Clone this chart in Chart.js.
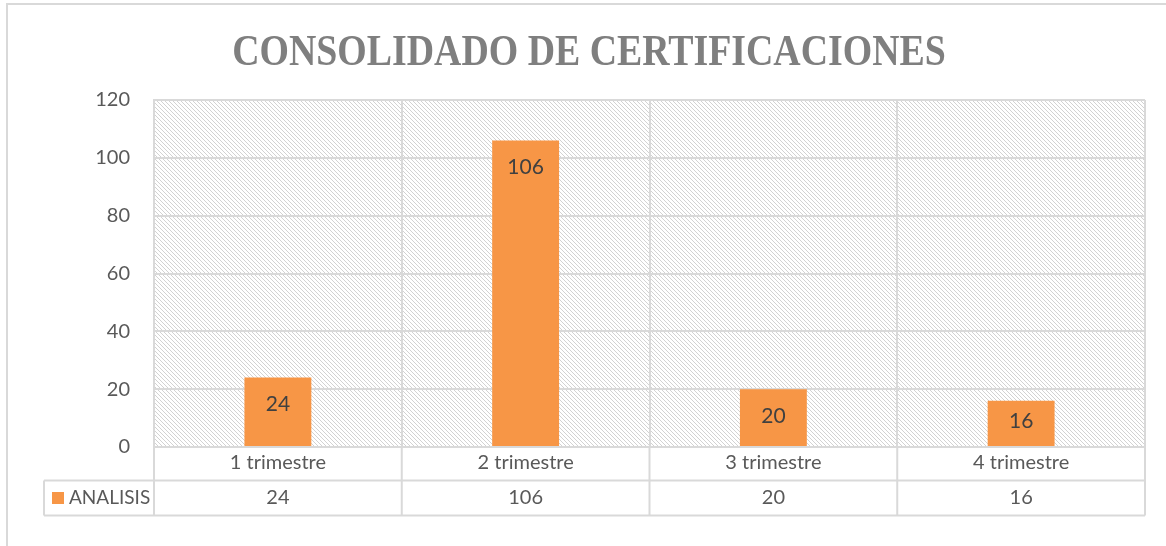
<!DOCTYPE html>
<html>
<head>
<meta charset="utf-8">
<script src="https://cdn.jsdelivr.net/npm/chart.js@4"></script>
<style>
html,body{margin:0;padding:0;background:#fff;}
#wrap{width:1166px;height:546px;position:relative;}
</style>
</head>
<body>
<div id="wrap"><canvas id="c" width="1166" height="546"></canvas></div>
<script>
const categories = ['1 trimestre', '2 trimestre', '3 trimestre', '4 trimestre'];
const seriesName = 'ANALISIS';
const analisis = [24, 106, 20, 16];
const yTicks = [0, 20, 40, 60, 80, 100, 120];
const titleText = 'CONSOLIDADO DE CERTIFICACIONES';

const BORDER = '#d9d9d9';
const BAR = '#F79646';
const TEXT = '#595959';
const FONT = 'Lato, "Noto Sans", sans-serif';

function makePattern(ctx) {
  const c = document.createElement('canvas');
  c.width = 4; c.height = 4;
  const g = c.getContext('2d');
  g.fillStyle = '#ffffff';
  g.fillRect(0, 0, 4, 4);
  g.fillStyle = '#d2d2d2';
  for (let i = 0; i < 4; i++) g.fillRect(i, i, 1, 1);
  return ctx.createPattern(c, 'repeat');
}

const bgPlugin = {
  id: 'bgPattern',
  beforeDraw(chart) {
    const { ctx, chartArea: a } = chart;
    ctx.save();
    ctx.fillStyle = makePattern(ctx);
    ctx.fillRect(a.left, a.top, a.right - a.left, a.bottom - a.top);
    // outer chart border
    ctx.strokeStyle = BORDER;
    ctx.lineWidth = 2;
    ctx.beginPath();
    ctx.moveTo(7, 546); ctx.lineTo(7, 4); ctx.lineTo(1166, 4);
    ctx.stroke();
    // title (condensed serif)
    ctx.fillStyle = '#7f7f7f';
    ctx.font = 'bold 44px "Liberation Serif", "DejaVu Serif", serif';
    ctx.textAlign = 'center';
    ctx.textBaseline = 'alphabetic';
    ctx.translate(589, 65);
    ctx.scale(0.86, 1);
    ctx.fillText(titleText, 0, 0);
    ctx.restore();
  }
};

const tablePlugin = {
  id: 'dataTable',
  afterDraw(chart) {
    const { ctx, chartArea: a, scales } = chart;
    const xs = scales.x;
    const n = categories.length;
    const w = (a.right - a.left) / n;
    const row1 = a.bottom;
    const row2 = a.bottom + 33.5;
    const row3 = a.bottom + 68.5;
    const legLeft = 44;
    ctx.save();
    ctx.strokeStyle = BORDER;
    ctx.lineWidth = 2;
    ctx.beginPath();
    ctx.moveTo(legLeft, row2); ctx.lineTo(a.right, row2);
    ctx.moveTo(legLeft, row3); ctx.lineTo(a.right, row3);
    ctx.moveTo(legLeft, row2); ctx.lineTo(legLeft, row3);
    for (let i = 0; i <= n; i++) {
      const x = a.left + i * w;
      ctx.moveTo(x, row1); ctx.lineTo(x, row3);
    }
    ctx.stroke();
    // legend key
    ctx.fillStyle = BAR;
    ctx.fillRect(52, row2 + 11.5, 12, 12);
    ctx.fillStyle = TEXT;
    ctx.font = '19px ' + FONT;
    ctx.textBaseline = 'middle';
    ctx.textAlign = 'left';
    ctx.fillText(seriesName, 69, (row2 + row3) / 2);
    // values
    ctx.font = '20px ' + FONT;
    ctx.textAlign = 'center';
    analisis.forEach((v, i) => {
      ctx.fillText(String(v), xs.getPixelForValue(i), (row2 + row3) / 2);
    });
    ctx.restore();
  }
};

const labelPlugin = {
  id: 'barLabels',
  afterDatasetsDraw(chart) {
    const { ctx } = chart;
    const meta = chart.getDatasetMeta(0);
    ctx.save();
    ctx.fillStyle = '#404040';
    ctx.font = '21px ' + FONT;
    ctx.textAlign = 'center';
    ctx.textBaseline = 'middle';
    meta.data.forEach((bar, i) => {
      let y = bar.y + 27;
      if (y > bar.base - 25) y = bar.base - 25;
      ctx.fillText(String(analisis[i]), bar.x, y);
    });
    ctx.restore();
  }
};

new Chart(document.getElementById('c'), {
  type: 'bar',
  data: {
    labels: categories,
    datasets: [{
      label: seriesName,
      data: analisis,
      backgroundColor: BAR,
      borderWidth: 0,
      barPercentage: 0.27,
      categoryPercentage: 1
    }]
  },
  options: {
    responsive: false,
    animation: false,
    devicePixelRatio: 1,
    layout: { padding: { left: 33, right: 21, top: 100, bottom: 0 } },
    plugins: {
      legend: { display: false },
      tooltip: { enabled: false },
      title: { display: false }
    },
    scales: {
      x: {
        grid: { color: BORDER, lineWidth: 2, drawTicks: false, offset: true },
        border: { color: BORDER, width: 2 },
        ticks: { color: TEXT, font: { family: FONT, size: 20 }, padding: 4 },
        afterFit(s) { s.height = 99; }
      },
      y: {
        min: 0, max: 120,
        grid: { color: BORDER, lineWidth: 2, drawTicks: false },
        border: { color: BORDER, width: 2 },
        ticks: {
          stepSize: 20,
          color: TEXT,
          font: { family: FONT, size: 20 },
          padding: 24,
          callback: (v) => yTicks.includes(v) ? String(v) : ''
        },
        afterFit(s) { s.width = 121; }
      }
    }
  },
  plugins: [bgPlugin, tablePlugin, labelPlugin]
});
</script>
</body>
</html>
